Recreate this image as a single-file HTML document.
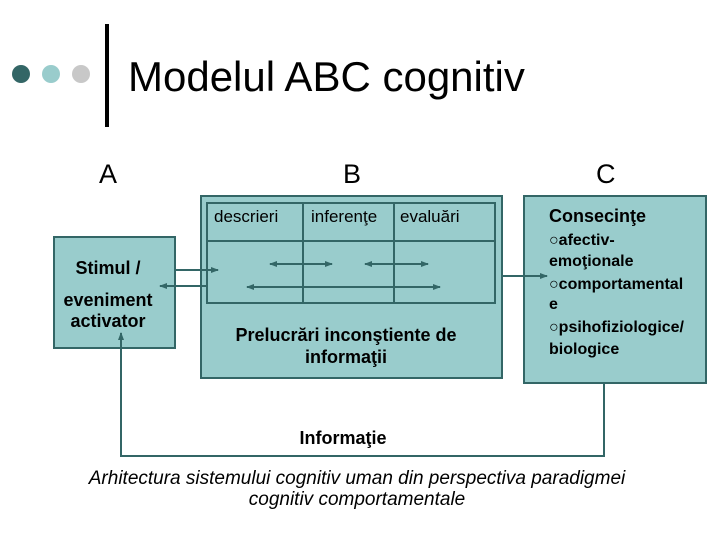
<!DOCTYPE html>
<html><head><meta charset="utf-8"><style>
body{margin:0;width:720px;height:540px;background:#fff;overflow:hidden;font-family:"Liberation Sans",sans-serif}
</style></head><body>
<svg width="720" height="540" viewBox="0 0 720 540" xmlns="http://www.w3.org/2000/svg" font-family="Liberation Sans, sans-serif">
<defs><marker id="a" markerWidth="8" markerHeight="6" refX="7" refY="3" orient="auto-start-reverse" markerUnits="userSpaceOnUse"><path d="M0,0 L8,3 L0,6 z" fill="#336666"/></marker></defs>
<circle cx="21" cy="74" r="9" fill="#336666"/>
<circle cx="51" cy="74" r="9" fill="#99cccc"/>
<circle cx="81" cy="74" r="9" fill="#c8c8c8"/>
<rect x="105" y="24" width="4" height="103" fill="#000"/>
<text x="128" y="91" font-size="42">Modelul ABC cognitiv</text>
<text x="99" y="183" font-size="27">A</text>
<text x="343" y="183" font-size="27">B</text>
<text x="596" y="183" font-size="27">C</text>
<g stroke="#336666" stroke-width="2" fill="#99cccc">
<rect x="54" y="237" width="121" height="111"/>
<rect x="201" y="196" width="301" height="182"/>
<rect x="207" y="203" width="288" height="100"/>
<rect x="524" y="196" width="182" height="187"/>
</g>
<g stroke="#336666" stroke-width="2" fill="none">
<line x1="207" y1="241" x2="495" y2="241"/>
<line x1="303" y1="203" x2="303" y2="303"/>
<line x1="394" y1="203" x2="394" y2="303"/>
<line x1="270" y1="264" x2="332" y2="264" marker-start="url(#a)" marker-end="url(#a)"/>
<line x1="365" y1="264" x2="428" y2="264" marker-start="url(#a)" marker-end="url(#a)"/>
<line x1="247" y1="287" x2="440" y2="287" marker-start="url(#a)" marker-end="url(#a)"/>
<line x1="175" y1="270" x2="218" y2="270" marker-end="url(#a)"/>
<line x1="207" y1="286" x2="160" y2="286" marker-end="url(#a)"/>
<line x1="502" y1="276" x2="547" y2="276" marker-end="url(#a)"/>
<polyline points="604,383 604,456 121,456 121,333" marker-end="url(#a)"/>
</g>
<g font-size="18" font-weight="bold" text-anchor="middle" fill="#000">
<text x="108" y="274">Stimul /</text>
<text x="108" y="306">eveniment</text>
<text x="108" y="327">activator</text>
<text x="346" y="341">Prelucrări inconştiente de</text>
<text x="346" y="363">informaţii</text>
<text x="343" y="444">Informaţie</text>
</g>
<g font-size="17" text-anchor="start">
<text x="214" y="222">descrieri</text>
<text x="311" y="222">inferenţe</text>
<text x="400" y="222">evaluări</text>
</g>
<text x="549" y="222" font-size="18" font-weight="bold">Consecinţe</text>
<g font-size="16" font-weight="bold">
<text x="549" y="245">○afectiv-</text>
<text x="549" y="266">emoţionale</text>
<text x="549" y="289">○comportamental</text>
<text x="549" y="309">e</text>
<text x="549" y="332">○psihofiziologice/</text>
<text x="549" y="354">biologice</text>
</g>
<g font-size="19" font-style="italic" text-anchor="middle">
<text x="357" y="484">Arhitectura sistemului cognitiv uman din perspectiva paradigmei</text>
<text x="357" y="505">cognitiv comportamentale</text>
</g>
</svg>
</body></html>
